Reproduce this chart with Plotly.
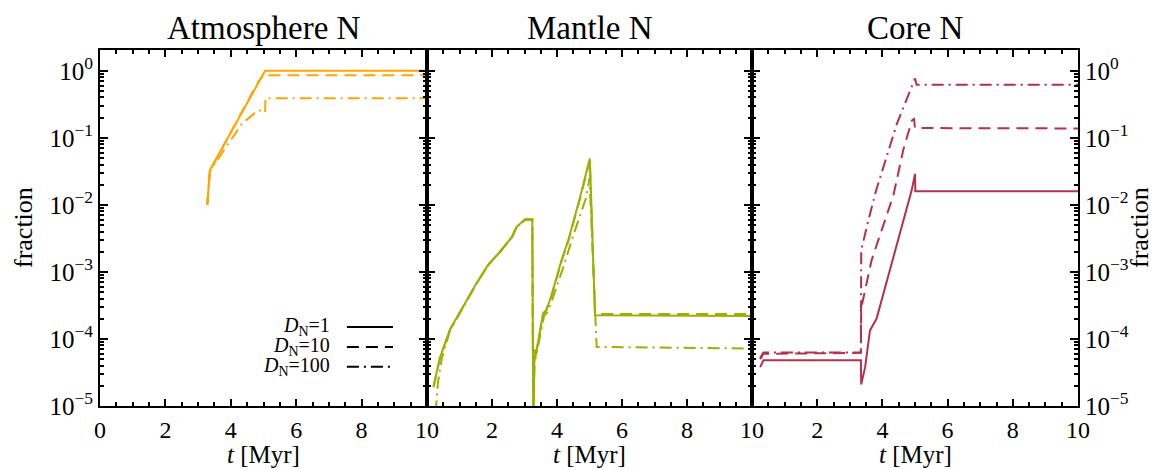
import plotly.graph_objects as go

# ---------------- data ----------------
panel_titles = ["Atmosphere N", "Mantle N", "Core N"]
legend_labels = ["<i>D</i><sub>N</sub>=1", "<i>D</i><sub>N</sub>=10", "<i>D</i><sub>N</sub>=100"]
x_tick_vals = [0, 2, 4, 6, 8, 10]
x_tick_text_first = ["0", "2", "4", "6", "8", "10"]
x_tick_text_other = ["", "2", "4", "6", "8", "10"]
y_tick_vals = [1e-5, 1e-4, 1e-3, 1e-2, 1e-1, 1e0]
y_tick_text = ["10<sup>−5</sup>", "10<sup>−4</sup>", "10<sup>−3</sup>",
               "10<sup>−2</sup>", "10<sup>−1</sup>", "10<sup>0</sup>"]

# Atmosphere
atm_d1_t = [3.28, 3.36, 5.05, 10.0]
atm_d1_v = [0.01, 0.033, 1.0, 1.0]
atm_d10_t = [3.28, 3.36, 4.84, 4.95, 5.0, 5.05, 10.0]
atm_d10_v = [0.01, 0.032, 0.69, 0.80, 0.93, 0.86, 0.86]
atm_d100_t = [3.28, 3.36, 4.33, 4.84, 5.05, 5.06, 10.0]
atm_d100_v = [0.01, 0.032, 0.16, 0.26, 0.24, 0.39, 0.39]

# Mantle
man_d1_t = [0.20, 0.40, 0.71, 1.17, 1.50, 1.89, 2.25, 2.61, 2.76, 3.02, 3.24, 3.27, 3.31, 3.34,
            3.57, 3.67, 3.82, 4.14, 4.35, 4.71, 5.01, 5.17, 10.0]
man_d1_v = [1.95e-5, 5.3e-5, 1.4e-4, 3.4e-4, 6.5e-4, 1.3e-3, 2.0e-3, 3.3e-3, 4.7e-3, 6.1e-3, 6.1e-3,
            5e-6, 7e-5, 5.5e-5, 2.4e-4, 2.7e-4, 4.3e-4, 1.5e-3, 3.0e-3, 1.3e-2, 0.049, 2.25e-4, 2.2e-4]
man_d10_t = [0.20, 0.40, 0.71, 1.17, 1.50, 1.89, 2.25, 2.61, 2.76, 3.02, 3.24, 3.27, 3.31, 3.34,
             3.57, 3.67, 3.82, 4.14, 4.35, 4.71, 5.01, 5.17, 10.0]
man_d10_v = [1.9e-5, 5.2e-5, 1.38e-4, 3.35e-4, 6.4e-4, 1.28e-3, 2.0e-3, 3.3e-3, 4.7e-3, 6.0e-3, 6.0e-3,
             5e-6, 6.8e-5, 5.4e-5, 2.35e-4, 2.65e-4, 4.2e-4, 1.45e-3, 2.9e-3, 1.25e-2, 0.046, 2.35e-4, 2.35e-4]
man_d100_t = [0.27, 0.33, 0.45, 0.71, 1.17, 1.50, 1.89, 2.25, 2.61, 2.76, 3.02, 3.24, 3.27, 3.31, 3.34,
              3.60, 3.70, 3.85, 4.20, 4.50, 4.90, 5.0, 5.22, 10.0]
man_d100_v = [8e-6, 2.1e-5, 5e-5, 1.35e-4, 3.3e-4, 6.4e-4, 1.28e-3, 2.0e-3, 3.3e-3, 4.7e-3, 6.0e-3, 6.0e-3,
              5e-6, 6.5e-5, 5e-5, 2.2e-4, 2.5e-4, 3.8e-4, 1.2e-3, 3.5e-3, 1.3e-2, 2.5e-2, 7.6e-5, 7.2e-5]

# Core
core_d1_t = [0.25, 0.35, 3.34, 3.35, 3.47, 3.62, 3.82, 4.74, 4.90, 5.0, 5.01, 10.0]
core_d1_v = [3.8e-5, 4.8e-5, 4.8e-5, 2.1e-5, 3.8e-5, 1.35e-4, 2.0e-4, 8.3e-3, 0.0166, 0.029, 0.016, 0.016]
core_d10_t = [0.25, 0.35, 3.34, 3.35, 3.67, 4.34, 4.64, 4.90, 4.97, 5.0, 10.0]
core_d10_v = [5.0e-5, 6.0e-5, 6.2e-5, 2.9e-4, 1.5e-3, 0.014, 0.066, 0.18, 0.19, 0.14, 0.138]
core_d100_t = [0.25, 0.35, 3.34, 3.35, 3.57, 3.80, 4.44, 5.0, 5.05, 10.0]
core_d100_v = [5.2e-5, 6.3e-5, 6.3e-5, 2.1e-3, 5.9e-3, 0.016, 0.16, 0.77, 0.62, 0.62]

# ---------------- style ----------------
FONT = "Liberation Serif"
colors = ["#FFA500", "#9CB000", "#B4304F"]
dashes = ["solid", "12px,7px", "12px,5px,2px,5px"]

panels = [
    [(atm_d1_t, atm_d1_v), (atm_d10_t, atm_d10_v), (atm_d100_t, atm_d100_v)],
    [(man_d1_t, man_d1_v), (man_d10_t, man_d10_v), (man_d100_t, man_d100_v)],
    [(core_d1_t, core_d1_v), (core_d10_t, core_d10_v), (core_d100_t, core_d100_v)],
]

fig = go.Figure()
for i, series in enumerate(panels):
    ax = "" if i == 0 else str(i + 1)
    for j, (t, v) in enumerate(series):
        fig.add_trace(go.Scatter(
            x=t, y=v, mode="lines", xaxis="x" + ax, yaxis="y" + ax,
            line=dict(color=colors[i], width=2, dash=dashes[j]),
            showlegend=False, hoverinfo="skip"))

W, H = 1155, 470
ml, mr, mt, mb = 100, 77, 50, 64
pw = W - ml - mr
edges = [0, 327 / pw, 652 / pw, 1.0]

layout = dict(
    width=W, height=H, margin=dict(l=ml, r=mr, t=mt, b=mb),
    paper_bgcolor="white", plot_bgcolor="white",
    font=dict(family=FONT, size=25, color="black"),
    showlegend=False,
)

for i in range(3):
    ax = "" if i == 0 else str(i + 1)
    layout["xaxis" + ax] = dict(
        domain=[edges[i], edges[i + 1]], range=[0, 10], anchor="y" + ax,
        tickmode="array", tickvals=x_tick_vals,
        ticktext=x_tick_text_first if i == 0 else x_tick_text_other,
        ticks="inside", ticklen=7, tickwidth=2, tickcolor="black",
        showline=True, linewidth=2, linecolor="black", mirror="ticks",
        showgrid=False, zeroline=False, ticklabelstandoff=1,
        tickfont=dict(family=FONT, size=24),
        minor=dict(dtick=0.5, ticks="inside", ticklen=4, tickwidth=1.5, tickcolor="black", showgrid=False),
    )
    layout["yaxis" + ax] = dict(
        type="log", range=[-5, 0.31], anchor="x" + ax,
        tickmode="array", tickvals=y_tick_vals, ticktext=y_tick_text,
        ticks="inside", ticklen=8, tickwidth=2, tickcolor="black",
        showline=True, linewidth=2, linecolor="black", mirror="ticks",
        showgrid=False, zeroline=False,
        showticklabels=(i != 1), side="right" if i == 2 else "left",
        tickfont=dict(family=FONT, size=25),
        minor=dict(dtick="D1", ticks="inside", ticklen=4, tickwidth=1.5, tickcolor="black", showgrid=False),
    )

annotations = []
shapes = []
for i in range(3):
    ax = "" if i == 0 else str(i + 1)
    annotations.append(dict(text=panel_titles[i], xref="x" + ax + " domain", yref="paper",
                            x=0.5, y=1, xanchor="center", yanchor="bottom", yshift=2,
                            showarrow=False, font=dict(family=FONT, size=33)))
    annotations.append(dict(text="<i>t</i> [Myr]", xref="x" + ax + " domain", yref="paper",
                            x=0.5, y=0, xanchor="center", yanchor="middle", yshift=-48,
                            showarrow=False, font=dict(family=FONT, size=25)))

annotations.append(dict(text="fraction", xref="paper", yref="paper", x=0, y=0.5, xshift=-77,
                        xanchor="center", yanchor="middle", textangle=-90, showarrow=False,
                        font=dict(family=FONT, size=26)))
annotations.append(dict(text="fraction", xref="paper", yref="paper", x=1, y=0.5, xshift=61,
                        xanchor="center", yanchor="middle", textangle=-90, showarrow=False,
                        font=dict(family=FONT, size=26)))

# legend (inside the first panel)
leg_y = [0.222, 0.166, 0.110]
for j in range(3):
    annotations.append(dict(text=legend_labels[j], xref="x domain", yref="y domain",
                            x=0.709, y=leg_y[j], xanchor="right", yanchor="middle",
                            showarrow=False, font=dict(family=FONT, size=20)))
    shapes.append(dict(type="line", xref="x domain", yref="y domain",
                       x0=0.755, x1=0.896, y0=leg_y[j], y1=leg_y[j],
                       line=dict(color="black", width=2, dash=dashes[j])))

layout["annotations"] = annotations
layout["shapes"] = shapes
fig.update_layout(**layout)
fig.write_html("out.html")
